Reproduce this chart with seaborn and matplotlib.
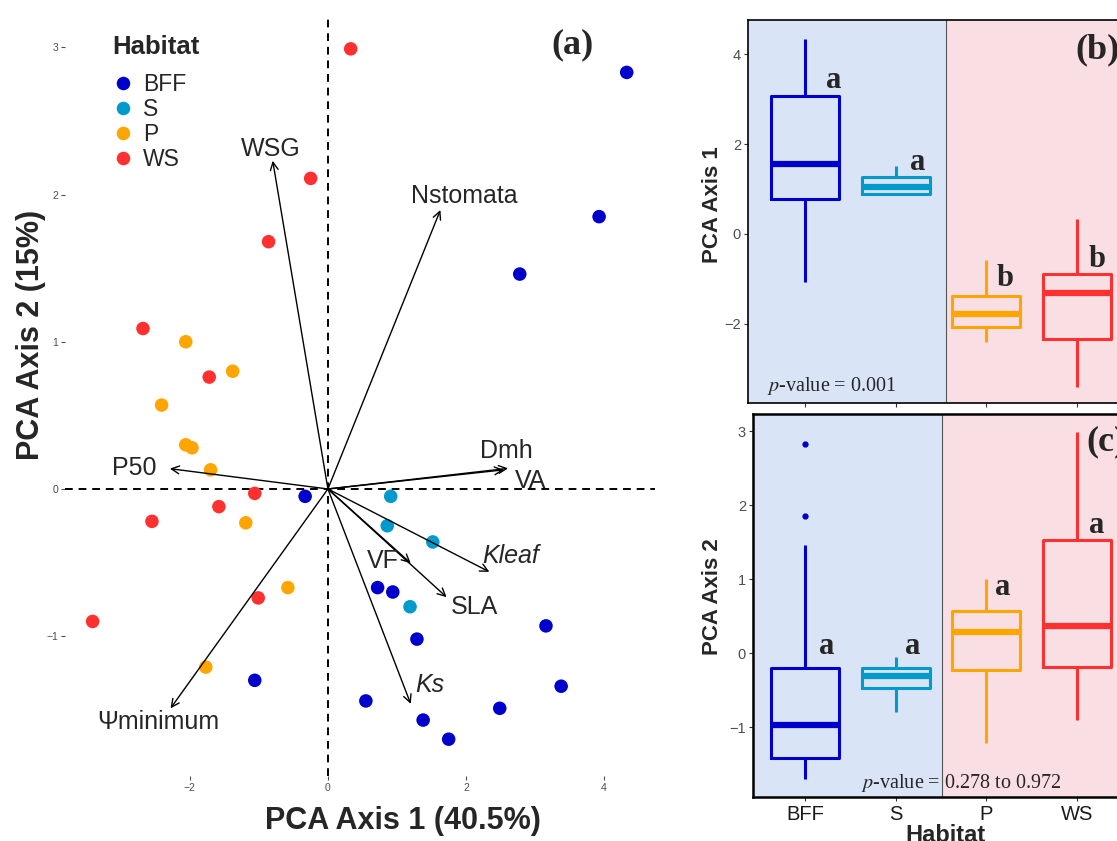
import numpy as np
import pandas as pd
import matplotlib
matplotlib.use("Agg")
import matplotlib.pyplot as plt
import seaborn as sns

# ---------------- data ----------------
habitats = ["BFF", "S", "P", "WS"]
colors = ["#0000CD", "#009ACD", "#FFA500", "#FF3030"]

bff_pc1 = [4.33, 3.93, 2.78, -0.33, 0.72, 0.94, 1.29, 3.16, 3.38, -1.06, 0.55, 2.49, 1.38, 1.75]
bff_pc2 = [2.83, 1.85, 1.46, -0.05, -0.67, -0.70, -1.02, -0.93, -1.34, -1.30, -1.44, -1.49, -1.57, -1.70]
s_pc1 = [0.91, 0.86, 1.52, 1.19]
s_pc2 = [-0.05, -0.25, -0.36, -0.80]
p_pc1 = [-2.06, -1.38, -2.41, -2.06, -1.97, -1.70, -1.19, -0.58, -1.77]
p_pc2 = [1.00, 0.80, 0.57, 0.30, 0.28, 0.13, -0.23, -0.67, -1.21]
ws_pc1 = [0.33, -0.25, -0.86, -2.68, -1.72, -1.06, -1.58, -2.55, -1.01, -3.41]
ws_pc2 = [2.99, 2.11, 1.68, 1.09, 0.76, -0.03, -0.12, -0.22, -0.74, -0.90]

# loadings (arrow tips) and their labels
load_names = ["WSG", "Nstomata", "P50", "Dmh", "VA", "Kleaf", "VF", "SLA", "Ks", "Ψminimum"]
load_x = [-0.80, 1.63, -2.29, 2.61, 2.55, 2.34, 1.20, 1.72, 1.20, -2.28]
load_y = [2.23, 1.895, 0.138, 0.14, 0.13, -0.563, -0.504, -0.735, -1.46, -1.49]
label_x = [-0.83, 1.98, -2.80, 2.58, 2.93, 2.65, 0.80, 2.12, 1.48, -2.46]
label_y = [2.31, 1.99, 0.145, 0.26, 0.057, -0.455, -0.49, -0.80, -1.33, -1.58]
italic_names = ["Kleaf", "Ks"]

letters_b = ["a", "a", "b", "b"]
letters_c = ["a", "a", "a", "a"]
pval_b = "0.001"
pval_c = "0.278 to 0.972"

df = pd.DataFrame({
    "Habitat": ["BFF"] * len(bff_pc1) + ["S"] * len(s_pc1) + ["P"] * len(p_pc1) + ["WS"] * len(ws_pc1),
    "PC1": bff_pc1 + s_pc1 + p_pc1 + ws_pc1,
    "PC2": bff_pc2 + s_pc2 + p_pc2 + ws_pc2,
})

# ---------------- style ----------------
sns.set_style("white")
plt.rcParams["font.family"] = ["Liberation Sans", "DejaVu Sans"]
plt.rcParams["mathtext.fontset"] = "stix"
title_font = ["Liberation Sans", "DejaVu Sans"]
serif = ["Liberation Serif", "DejaVu Serif"]

W, H = 1117, 841
fig = plt.figure(figsize=(W / 100, H / 100), dpi=100)


def rect(l, t, r, b):
    return [l / W, 1 - b / H, (r - l) / W, (b - t) / H]


pal = dict(zip(habitats, colors))

# ---------------- panel (a) ----------------
axA = fig.add_axes(rect(65, 15, 655, 776))
axA.axhline(0, ls=(0, (4, 3)), color="black", lw=1.4, zorder=1)
axA.axvline(0, ls=(0, (4, 3)), color="black", lw=1.4, zorder=1)
sns.scatterplot(data=df, x="PC1", y="PC2", hue="Habitat", hue_order=habitats,
                palette=pal, s=95, linewidth=0, ax=axA, zorder=3)
for nm, lx, ly, tx, ty in zip(load_names, load_x, load_y, label_x, label_y):
    axA.annotate("", xy=(lx, ly), xytext=(0, 0),
                 arrowprops=dict(arrowstyle="->", color="black", lw=1.0,
                                 shrinkA=0, shrinkB=0, mutation_scale=14), zorder=4)
    axA.text(tx, ty, nm, ha="center", va="center", fontsize=18,
             style="italic" if nm in italic_names else "normal", zorder=5)
axA.text(3.55, 3.02, "(a)", ha="center", va="center", fontsize=26,
         fontweight="bold", family=serif)
axA.set_xlim(-3.81, 4.74)
axA.set_ylim(-1.95, 3.22)
axA.set_xticks([-2, 0, 2, 4])
axA.set_yticks([-1, 0, 1, 2, 3])
for s in axA.spines.values():
    s.set_visible(False)
axA.tick_params(length=3, width=0.8, color="#4D4D4D", labelsize=7.5,
                labelcolor="#4D4D4D", pad=2, left=True, bottom=True)
axA.set_xlabel("")
axA.set_ylabel("")
leg = axA.legend(title="Habitat", loc="upper left",
                 bbox_to_anchor=((112 - 65) / 590, (776 - 35) / 761),
                 frameon=False, fontsize=16.5, handletextpad=0.35,
                 handlelength=1.0, labelspacing=0.09, borderpad=0, borderaxespad=0,
                 title_fontproperties={"weight": "bold", "size": 18.5},
                 alignment="left")
try:
    leg._legend_box.sep = 10
except Exception:
    pass

fig.text(403 / W, 1 - 821 / H, "PCA Axis 1 (40.5%)", ha="center", va="center",
         fontsize=22, fontweight="bold", family=title_font)
fig.text(31 / W, 1 - 335 / H, "PCA Axis 2 (15%)", ha="center", va="center",
         rotation=90, fontsize=22, fontweight="bold", family=title_font)

# ---------------- boxplot panels ----------------
blue_bg = "#D9E4F6"
pink_bg = "#F9DEE3"


def box_panel(ax, ycol, xlim, ylim, split, letters, lpos, ptxt, ppos, tag, tagpos, yticks, spine_lw):
    sns.boxplot(data=df, x="Habitat", y=ycol, hue="Habitat", order=habitats,
                hue_order=habitats, palette=pal, fill=False, width=0.75,
                linewidth=2.2, showcaps=False, whis=1.5,
                medianprops={"linewidth": 4.5},
                flierprops={"marker": "o", "markersize": 3.5},
                legend=False, ax=ax)
    boxes = list(ax.patches)
    if len(boxes) >= 2:
        boxes[1].set_fill(True)
        boxes[1].set_facecolor("white")
    for ln in ax.lines:
        if ln.get_marker() == "o":
            ln.set_markerfacecolor(ln.get_markeredgecolor())
    ax.axvspan(xlim[0], split, color=blue_bg, zorder=0, lw=0)
    ax.axvspan(split, xlim[1], color=pink_bg, zorder=0, lw=0)
    ax.axvline(split, color="#555555", lw=0.8, zorder=0.5)
    ax.set_xlim(*xlim)
    ax.set_ylim(*ylim)
    ax.set_yticks(yticks)
    for lt, (lx, ly) in zip(letters, lpos):
        ax.text(lx, ly, lt, ha="center", va="center", fontsize=22,
                fontweight="bold", family=serif)
    ax.text(ppos[0], ppos[1], r"$p$-value = " + ptxt, ha="center", va="center",
            fontsize=14.5, family=serif)
    ax.text(tagpos[0], tagpos[1], tag, ha="center", va="center", fontsize=26,
            fontweight="bold", family=serif)
    for s in ax.spines.values():
        s.set_color("black")
        s.set_linewidth(spine_lw)
    ax.tick_params(axis="y", length=3, width=0.8, color="#333333", labelsize=10.5,
                   labelcolor="#4D4D4D", pad=2, left=True)
    ax.set_xlabel("")
    ax.set_ylabel("")


axB = fig.add_axes(rect(748, 20, 1131, 403))
box_panel(axB, "PC1", (-0.628, 3.594), (-3.756, 4.756), 1.555, letters_b,
          [(0.32, 3.42), (1.24, 1.58), (2.21, -0.98), (3.22, -0.56)],
          pval_b, (0.30, -3.38), "(b)", (3.22, 4.10), [-2, 0, 2, 4], 1.2)
axB.tick_params(axis="x", length=3, width=0.8, color="#333333", labelbottom=False, bottom=True)

axC = fig.add_axes(rect(753, 414, 1131, 797))
box_panel(axC, "PC2", (-0.573, 3.594), (-1.946, 3.23), 1.51, letters_c,
          [(0.24, 0.09), (1.19, 0.09), (2.18, 0.89), (3.22, 1.72)],
          pval_c, (1.72, -1.76), "(c)", (3.32, 2.85), [-1, 0, 1, 2, 3], 1.8)
axC.tick_params(axis="x", length=3, width=0.8, color="#333333", labelsize=14.5,
                labelcolor="#1A1A1A", pad=3, bottom=True)

fig.text(713 / W, 1 - 205 / H, "PCA Axis 1", ha="center", va="center", rotation=90,
         fontsize=16, fontweight="bold", family=title_font)
fig.text(713 / W, 1 - 597 / H, "PCA Axis 2", ha="center", va="center", rotation=90,
         fontsize=16, fontweight="bold", family=title_font)
fig.text(946 / W, 1 - 835 / H, "Habitat", ha="center", va="center",
         fontsize=17, fontweight="bold", family=title_font)

fig.savefig("out.png", dpi=100)
